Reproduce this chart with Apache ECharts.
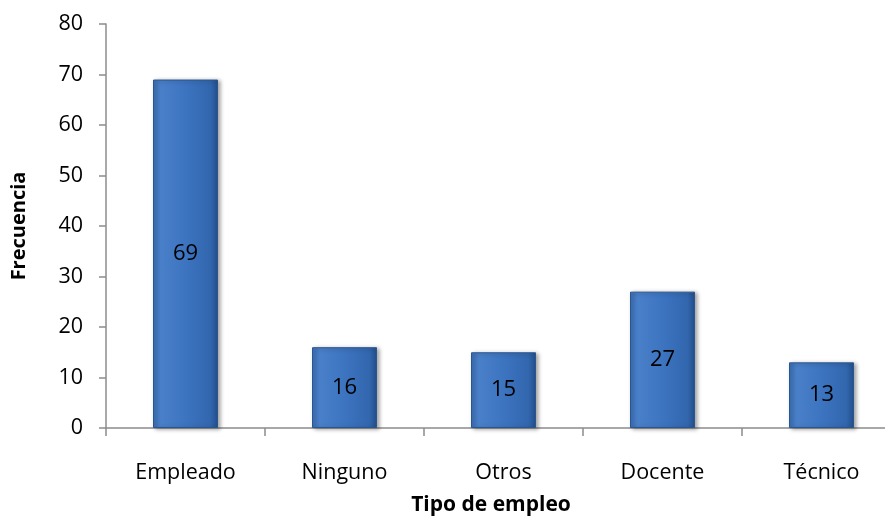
<!DOCTYPE html>
<html>
<head>
<meta charset="utf-8">
<script src="https://cdn.jsdelivr.net/npm/echarts@6/dist/echarts.min.js"></script>
<style>
  html, body { margin: 0; padding: 0; background: #ffffff; overflow: hidden; }
  /* the category axis runs a little past the right edge of the window */
  #chart { width: 901px; height: 532px; }
</style>
</head>
<body>
<div id="chart"></div>
<script>
// Frecuencia por tipo de empleo
const categories = ['Empleado', 'Ninguno', 'Otros', 'Docente', 'Técnico'];
const frecuencias = [69, 16, 15, 27, 13];
const yTicks = { min: 0, max: 80, interval: 10 };

const axisGray = '#8c8c8c';
const fontFam = '"Open Sans", "Noto Sans", sans-serif';

const barFill = {
  type: 'linear', x: 0, y: 0, x2: 1, y2: 0,
  colorStops: [
    { offset: 0, color: '#3b6fb6' },
    { offset: 0.12, color: '#4a80c9' },
    { offset: 0.5, color: '#3d74c0' },
    { offset: 0.88, color: '#3267ae' },
    { offset: 1, color: '#234f8c' }
  ]
};

const chart = echarts.init(document.getElementById('chart'), null, { renderer: 'canvas' });
chart.setOption({
  animation: false,
  backgroundColor: '#ffffff',
  grid: { left: 106, top: 24, bottom: 104, right: 0, containLabel: false },
  xAxis: {
    type: 'category',
    data: categories,
    name: 'Tipo de empleo',
    nameLocation: 'middle',
    nameGap: 67,
    nameTextStyle: { fontFamily: fontFam, fontSize: 21, fontWeight: 'bold', color: '#000', padding: [0, 0, 0, -25] },
    axisLine: { lineStyle: { color: axisGray, width: 1.5 } },
    axisTick: { show: true, length: 8, alignWithLabel: false, lineStyle: { color: axisGray, width: 1.5 } },
    axisLabel: { fontFamily: fontFam, fontSize: 21.5, color: '#000', margin: 34 }
  },
  yAxis: {
    type: 'value',
    min: yTicks.min,
    max: yTicks.max,
    interval: yTicks.interval,
    name: 'Frecuencia',
    nameLocation: 'middle',
    nameGap: 77,
    nameRotate: 90,
    nameTextStyle: { fontFamily: fontFam, fontSize: 20, fontWeight: 'bold', color: '#000' },
    axisLine: { show: true, lineStyle: { color: axisGray, width: 1.5 } },
    axisTick: { show: true, length: 7, lineStyle: { color: axisGray, width: 1.5 } },
    splitLine: { show: false },
    axisLabel: { fontFamily: fontFam, fontSize: 21.5, color: '#000', margin: 23 }
  },
  series: [{
    type: 'bar',
    data: frecuencias,
    barWidth: 65,
    itemStyle: {
      color: barFill,
      borderColor: '#2a568f',
      borderWidth: 1,
      shadowColor: 'rgba(0,0,0,0.35)',
      shadowBlur: 4,
      shadowOffsetX: 2,
      shadowOffsetY: 1
    },
    label: {
      show: true,
      position: 'inside',
      fontFamily: fontFam,
      fontSize: 22,
      color: '#000'
    }
  }]
});
</script>
</body>
</html>
